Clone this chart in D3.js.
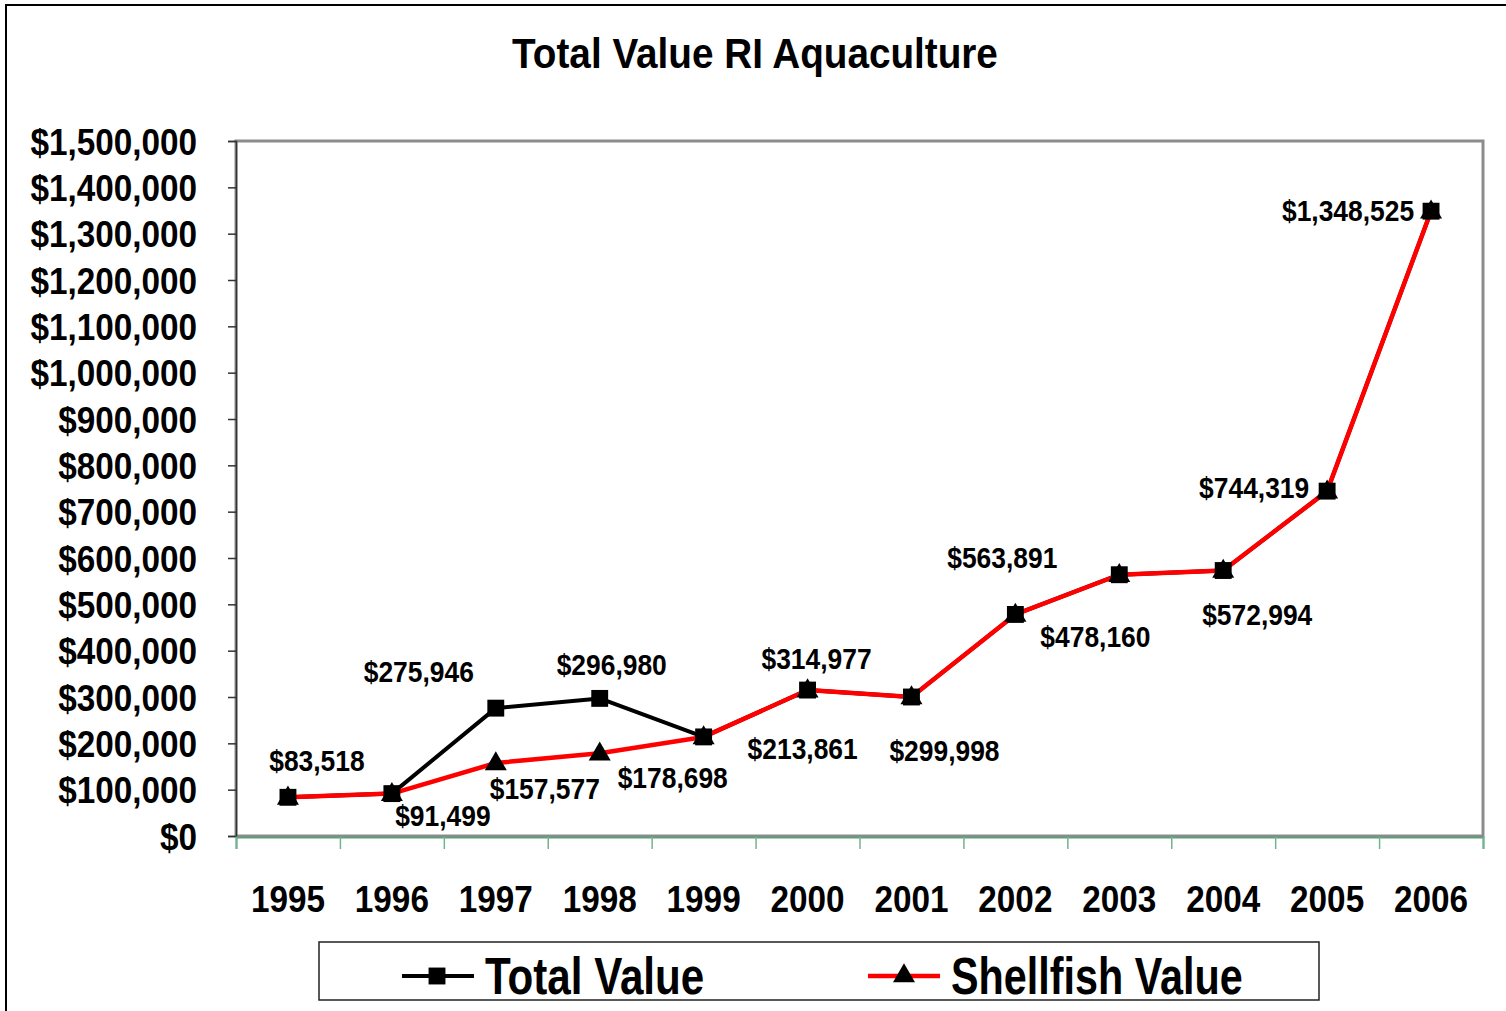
<!DOCTYPE html>
<html>
<head>
<meta charset="utf-8">
<script src="https://cdn.jsdelivr.net/npm/d3@7"></script>
<style>
  html, body { margin: 0; padding: 0; background: #fff; }
  svg { display: block; }
  text { font-family: "Liberation Sans", Arial, sans-serif; font-weight: bold; fill: #000; }
</style>
</head>
<body>
<svg id="chart" width="1506" height="1011"></svg>
<script>
// ---------------- data ----------------
const years = ["1995","1996","1997","1998","1999","2000","2001","2002","2003","2004","2005","2006"];
const totalValue = [83518, 91499, 275946, 296980, 213861, 314977, 299998, 478160, 563891, 572994, 744319, 1348525];
const shellfishValue = [83518, 91499, 157577, 178698, 213861, 314977, 299998, 478160, 563891, 572994, 744319, 1348525];
const yTicks = [0,100000,200000,300000,400000,500000,600000,700000,800000,900000,1000000,1100000,1200000,1300000,1400000,1500000];
const seriesNames = ["Total Value", "Shellfish Value"];
const titleText = "Total Value RI Aquaculture";

// indices of points that carry a data label, per series
const totalLabelIdx = [0, 2, 3, 5, 8, 10, 11];
const shellLabelIdx = [1, 2, 3, 4, 6, 7, 9];

// ---------------- layout / style ----------------
const SX = 0.9; // horizontal condensing of the bold font
const plot = { left: 236, right: 1483, top: 141, bottom: 836 };
const totalLabelOffset = { 0:[29,-37], 2:[-77,-37], 3:[12,-34], 5:[9,-32], 8:[-117,-17], 10:[-73,-4], 11:[-83,-1] };
const shellLabelOffset = { 1:[51,22], 2:[49,26], 3:[73,24], 4:[99,12], 6:[33,53], 7:[80,22], 9:[34,44] };

const svg = d3.select("#chart");

// outer border
svg.append("rect").attr("x", 6).attr("y", 5).attr("width", 1520).attr("height", 1030)
  .attr("fill", "none").attr("stroke", "#000").attr("stroke-width", 2);

// helper to draw condensed text
function ctext(g, x, y, str, size, anchor, sx) {
  return g.append("text")
    .attr("transform", `translate(${x},${y}) scale(${sx || SX},1)`)
    .attr("text-anchor", anchor || "middle")
    .attr("font-size", size)
    .text(str);
}

// title
ctext(svg, 755, 68, titleText, 43, "middle");

// scales
const x = d3.scaleBand().domain(years).range([plot.left, plot.right]).padding(0);
const xEdge = d3.scaleLinear().domain([0, years.length]).range([plot.left, plot.right]);
const y = d3.scaleLinear().domain([0, 1500000]).range([plot.bottom, plot.top]);
const cx = d => x(d) + x.bandwidth() / 2;

// plot frame
svg.append("rect")
  .attr("x", plot.left).attr("y", plot.top)
  .attr("width", plot.right - plot.left).attr("height", plot.bottom - plot.top)
  .attr("fill", "#fff").attr("stroke", "#8c8c8c").attr("stroke-width", 3);

// y axis
const fmt = v => "$" + d3.format(",")(v);
const yAxis = svg.append("g").attr("transform", `translate(${plot.left},0)`)
  .call(d3.axisLeft(y).tickValues(yTicks).tickSize(8).tickPadding(0).tickFormat(fmt));
yAxis.select(".domain").attr("stroke", "#333").attr("stroke-width", 1.5);
yAxis.selectAll(".tick line").attr("stroke", "#333").attr("stroke-width", 1.5);
yAxis.selectAll(".tick text")
  .attr("font-size", 37)
  .attr("x", -39 / SX).attr("dy", "0.36em")
  .attr("transform", `scale(${SX},1)`);
yAxis.attr("font-family", null).attr("font-size", null);

// x axis: tick marks at category boundaries
const xTickAxis = svg.append("g").attr("transform", `translate(0,${plot.bottom + 1})`)
  .call(d3.axisBottom(xEdge).tickValues(d3.range(0, years.length + 1)).tickSize(12).tickFormat(""));
xTickAxis.select(".domain").attr("stroke", "#5f9e7c").attr("stroke-width", 2);
xTickAxis.selectAll(".tick line").attr("stroke", "#6fb690").attr("stroke-width", 1.5);

// x axis labels
const xLabAxis = svg.append("g").attr("transform", `translate(0,${plot.bottom})`)
  .call(d3.axisBottom(x).tickSize(0).tickPadding(0));
xLabAxis.select(".domain").remove();
xLabAxis.attr("font-family", null).attr("font-size", null);
xLabAxis.selectAll(".tick text")
  .attr("font-size", 37).attr("y", 76).attr("dy", 0)
  .attr("transform", `scale(${SX},1)`);

// lines
const line = d3.line().x((d, i) => cx(years[i])).y(d => y(d));
svg.append("path").datum(totalValue).attr("d", line)
  .attr("fill", "none").attr("stroke", "#000").attr("stroke-width", 4).attr("stroke-linejoin", "round");
svg.append("path").datum(shellfishValue).attr("d", line)
  .attr("fill", "none").attr("stroke", "#ff0000").attr("stroke-width", 4.5).attr("stroke-linejoin", "round");

// markers
const tri = d3.symbol().type(d3.symbolTriangle).size(210);
const sq = d3.symbol().type(d3.symbolSquare).size(285);
svg.append("g").selectAll("path").data(shellfishValue).join("path")
  .attr("d", tri).attr("fill", "#000")
  .attr("transform", (d, i) => `translate(${cx(years[i])},${y(d) + 1})`);
svg.append("g").selectAll("path").data(totalValue).join("path")
  .attr("d", sq).attr("fill", "#000")
  .attr("transform", (d, i) => `translate(${cx(years[i])},${y(d)})`);

// data labels
const labG = svg.append("g");
totalLabelIdx.forEach(i => {
  const o = totalLabelOffset[i];
  ctext(labG, cx(years[i]) + o[0], y(totalValue[i]) + o[1] + 10.5, fmt(totalValue[i]), 30, "middle", 0.88);
});
shellLabelIdx.forEach(i => {
  const o = shellLabelOffset[i];
  ctext(labG, cx(years[i]) + o[0], y(shellfishValue[i]) + o[1] + 10.5, fmt(shellfishValue[i]), 30, "middle", 0.88);
});

// legend
const lg = svg.append("g");
lg.append("rect").attr("x", 319).attr("y", 942).attr("width", 1000).attr("height", 58)
  .attr("fill", "#fff").attr("stroke", "#222").attr("stroke-width", 1.5);
lg.append("line").attr("x1", 402).attr("x2", 474).attr("y1", 976).attr("y2", 976)
  .attr("stroke", "#000").attr("stroke-width", 4);
lg.append("path").attr("d", sq).attr("fill", "#000").attr("transform", "translate(437,976)");
ctext(lg, 485, 994, seriesNames[0], 52, "start", 0.81);
lg.append("line").attr("x1", 868).attr("x2", 940).attr("y1", 976).attr("y2", 976)
  .attr("stroke", "#ff0000").attr("stroke-width", 4.5);
lg.append("path").attr("d", tri).attr("fill", "#000").attr("transform", "translate(904,976)");
ctext(lg, 951, 994, seriesNames[1], 52, "start", 0.795);
</script>
</body>
</html>
